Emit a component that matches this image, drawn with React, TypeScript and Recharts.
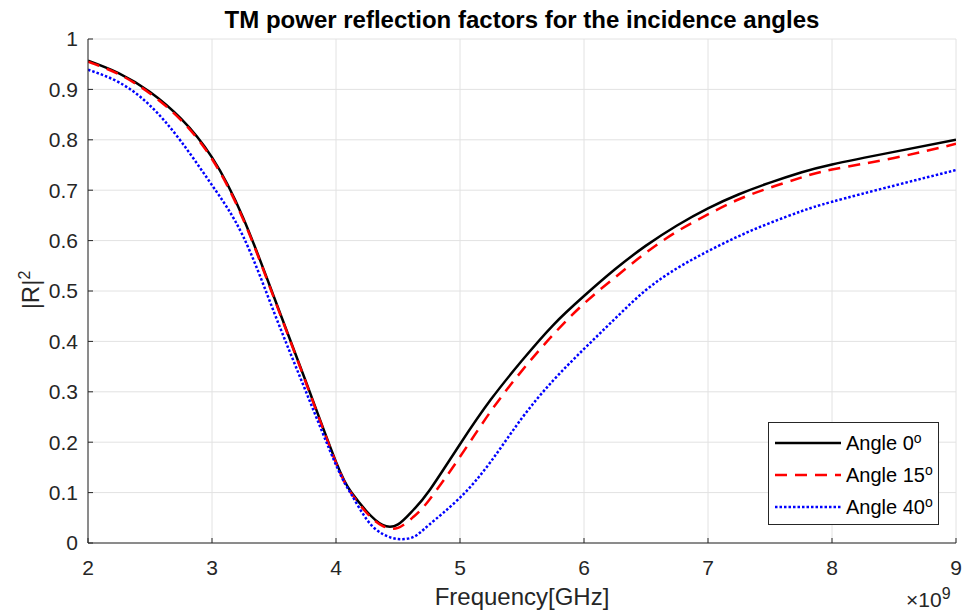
import React from "react";
import { LineChart, Line, XAxis, YAxis, CartesianGrid } from "recharts";

// frequency in GHz (axis shows x 10^9 scaling)
const freq = [
  2, 2.25, 2.5, 2.75, 3, 3.25, 3.5, 3.75, 4, 4.125, 4.25, 4.375, 4.5, 4.625,
  4.75, 5, 5.25, 5.5, 5.75, 6, 6.25, 6.5, 6.75, 7, 7.25, 7.5, 7.75, 8, 8.5, 9,
];

const angle0 = [
  0.957, 0.932, 0.895, 0.842, 0.765, 0.646, 0.488, 0.325, 0.161, 0.1, 0.062,
  0.036, 0.037, 0.066, 0.103, 0.196, 0.285, 0.362, 0.432, 0.49, 0.543, 0.59,
  0.63, 0.664, 0.692, 0.715, 0.735, 0.751, 0.776, 0.8,
];

const angle15 = [
  0.955, 0.93, 0.892, 0.839, 0.762, 0.643, 0.486, 0.323, 0.159, 0.098, 0.059,
  0.034, 0.03, 0.052, 0.085, 0.171, 0.262, 0.342, 0.413, 0.475, 0.527, 0.576,
  0.618, 0.652, 0.682, 0.705, 0.725, 0.741, 0.764, 0.792,
];

const angle40 = [
  0.939, 0.914, 0.868, 0.797, 0.71, 0.609, 0.458, 0.305, 0.155, 0.096, 0.046,
  0.018, 0.008, 0.012, 0.036, 0.09, 0.162, 0.248, 0.322, 0.385, 0.445, 0.502,
  0.545, 0.579, 0.609, 0.635, 0.658, 0.677, 0.709, 0.74,
];

const xTicks = [2, 3, 4, 5, 6, 7, 8, 9];
const yTicks = [0, 0.1, 0.2, 0.3, 0.4, 0.5, 0.6, 0.7, 0.8, 0.9, 1];

const series = [
  { key: "a0", label: "Angle 0", sup: "o", color: "#000000", dash: undefined as string | undefined },
  { key: "a15", label: "Angle 15", sup: "o", color: "#ff0000", dash: "12 8" },
  { key: "a40", label: "Angle 40", sup: "o", color: "#0000ff", dash: "2.5 2" },
];

const chartData = freq.map((f, i) => ({
  f,
  a0: angle0[i],
  a15: angle15[i],
  a40: angle40[i],
}));

const font = "'Liberation Sans', Arial, Helvetica, sans-serif";
const axisColor = "#262626";

const App: React.FC = () => {
  return (
    <div
      style={{
        position: "absolute",
        left: 0,
        top: 0,
        width: 962,
        height: 615,
        background: "#fff",
        fontFamily: font,
      }}
    >
      <LineChart
        width={962}
        height={615}
        data={chartData}
        margin={{ top: 39, right: 6, bottom: 22, left: 18 }}
      >
        <CartesianGrid stroke="#e2e2e2" strokeWidth={1} />
        <XAxis
          dataKey="f"
          type="number"
          domain={[2, 9]}
          ticks={xTicks}
          height={50}
          stroke={axisColor}
          tickSize={-5}
          tickMargin={22}
          tick={{ fill: axisColor, fontSize: 21, fontFamily: font }}
          allowDataOverflow
        />
        <YAxis
          type="number"
          domain={[0, 1]}
          ticks={yTicks}
          width={70}
          stroke={axisColor}
          tickSize={-5}
          tickMargin={15}
          tick={{ fill: axisColor, fontSize: 21, fontFamily: font }}
          allowDataOverflow
        />
        {series.map((s) => (
          <Line
            key={s.key}
            type="natural"
            dataKey={s.key}
            stroke={s.color}
            strokeWidth={2.5}
            strokeDasharray={s.dash}
            dot={false}
            isAnimationActive={false}
          />
        ))}
      </LineChart>

      {/* title */}
      <div
        style={{
          position: "absolute",
          left: 88,
          width: 868,
          top: 6,
          textAlign: "center",
          fontWeight: "bold",
          fontSize: 24,
          color: "#000",
        }}
      >
        TM power reflection factors for the incidence angles
      </div>

      {/* x label */}
      <div
        style={{
          position: "absolute",
          left: 88,
          width: 868,
          top: 583,
          textAlign: "center",
          fontSize: 24,
          color: axisColor,
        }}
      >
        Frequency[GHz]
      </div>

      {/* x10^9 */}
      <div
        style={{
          position: "absolute",
          left: 906,
          top: 588,
          fontSize: 21,
          color: axisColor,
          whiteSpace: "nowrap",
        }}
      >
        ×10<sup style={{ fontSize: 16, verticalAlign: "8px", lineHeight: 0 }}>9</sup>
      </div>

      {/* y label */}
      <div
        style={{
          position: "absolute",
          left: 31,
          top: 290,
          transform: "translate(-50%, -50%) rotate(-90deg)",
          fontSize: 24,
          color: axisColor,
          whiteSpace: "nowrap",
        }}
      >
        |R|<sup style={{ fontSize: 16, verticalAlign: "9px", lineHeight: 0 }}>2</sup>
      </div>

      {/* legend */}
      <div
        style={{
          position: "absolute",
          left: 768,
          top: 422,
          width: 169,
          height: 101,
          border: "1px solid #262626",
          background: "#fff",
          boxSizing: "content-box",
        }}
      >
        {series.map((s, i) => (
          <div
            key={s.key}
            style={{
              position: "absolute",
              left: 6,
              top: 8 + i * 32,
              height: 24,
              display: "flex",
              alignItems: "center",
              whiteSpace: "nowrap",
            }}
          >
            <svg width={66} height={10} style={{ marginRight: 5 }}>
              <line
                x1={0}
                y1={5}
                x2={66}
                y2={5}
                stroke={s.color}
                strokeWidth={2.5}
                strokeDasharray={s.dash}
              />
            </svg>
            <span style={{ fontSize: 20, color: "#000" }}>
              {s.label}
              <sup style={{ fontSize: 14, verticalAlign: "7px", lineHeight: 0 }}>{s.sup}</sup>
            </span>
          </div>
        ))}
      </div>
    </div>
  );
};

export default App;
